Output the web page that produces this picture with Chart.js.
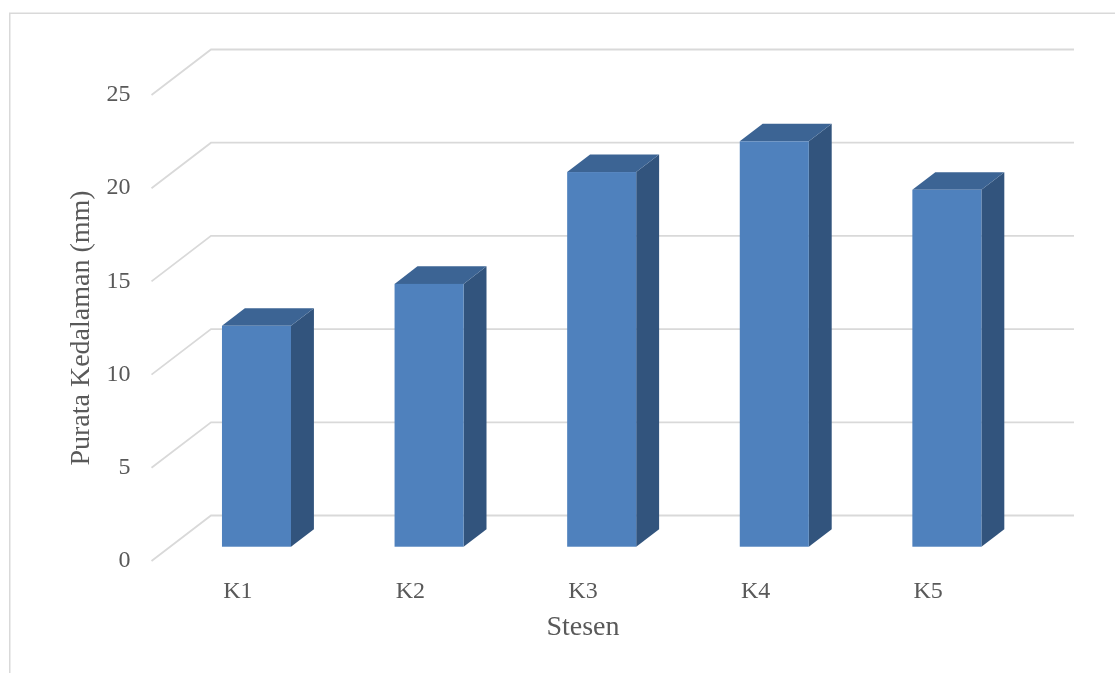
<!DOCTYPE html>
<html>
<head>
<meta charset="utf-8">
<script src="https://cdn.jsdelivr.net/npm/chart.js@4/dist/chart.umd.min.js"></script>
<style>
  html, body { margin: 0; padding: 0; background: #ffffff; }
  #wrap { width: 1115px; height: 673px; }
</style>
</head>
<body>
<div id="wrap"><canvas id="c" width="1115" height="673"></canvas></div>
<script>
// ---- data ----
const categories = ['K1', 'K2', 'K3', 'K4', 'K5'];
const depthValues = [11.85, 14.1, 20.1, 21.75, 19.15];
const yTitle = 'Purata Kedalaman (mm)';
const xTitle = 'Stesen';
const yMin = 0, yMax = 25, yStep = 5;

// ---- styles ----
const FONT = "'Liberation Serif', 'Times New Roman', serif";
const TEXT = '#595959';
const GRID = '#d9d9d9';
const FRONT = '#4f81bd';
const TOP = '#3c6494';
const SIDE = '#32547d';
const DEPTH_X = 59.5, DEPTH_Y = 45.5;   // full floor depth (oblique)
const BAR_FRONT = 0.314;                 // bar front face depth fraction
const BAR_DEPTH = 0.385;                 // bar depth fraction

const pseudo3d = {
  id: 'pseudo3d',
  beforeDatasetsDraw(chart) {
    const { ctx, chartArea: a, scales: { y } } = chart;
    ctx.save();
    // outer frame
    ctx.strokeStyle = GRID;
    ctx.lineWidth = 1.5;
    ctx.strokeRect(9.75, 13.25, 1300, 800);
    // floor diagonals + back wall gridlines
    ctx.lineWidth = 1.8;
    ctx.strokeStyle = GRID;
    y.ticks.forEach(t => {
      const Y = y.getPixelForValue(t.value);
      ctx.beginPath();
      ctx.moveTo(a.left, Y);
      ctx.lineTo(a.left + DEPTH_X, Y - DEPTH_Y);
      ctx.lineTo(a.right + DEPTH_X, Y - DEPTH_Y);
      ctx.stroke();
    });
    ctx.restore();
  },
  afterDatasetsDraw(chart) {
    const { ctx } = chart;
    const meta = chart.getDatasetMeta(0);
    const fx = DEPTH_X * BAR_FRONT, fy = DEPTH_Y * BAR_FRONT;
    const bx = DEPTH_X * BAR_DEPTH, by = DEPTH_Y * BAR_DEPTH;
    ctx.save();
    meta.data.forEach(el => {
      const p = el.getProps(['x', 'y', 'base', 'width'], true);
      const left = p.x - p.width / 2 + fx;
      const right = left + p.width;
      const top = p.y - fy;
      const bot = p.base - fy;
      // side face
      ctx.fillStyle = SIDE;
      ctx.beginPath();
      ctx.moveTo(right, top);
      ctx.lineTo(right + bx, top - by);
      ctx.lineTo(right + bx, bot - by);
      ctx.lineTo(right, bot);
      ctx.closePath();
      ctx.fill();
      // top face
      ctx.fillStyle = TOP;
      ctx.beginPath();
      ctx.moveTo(left, top);
      ctx.lineTo(left + bx, top - by);
      ctx.lineTo(right + bx, top - by);
      ctx.lineTo(right, top);
      ctx.closePath();
      ctx.fill();
      // front face
      ctx.fillStyle = FRONT;
      ctx.fillRect(left, top, p.width, bot - top);
    });
    ctx.restore();
  }
};

new Chart(document.getElementById('c'), {
  type: 'bar',
  data: {
    labels: categories,
    datasets: [{
      data: depthValues,
      backgroundColor: 'rgba(0,0,0,0)',
      borderWidth: 0,
      categoryPercentage: 1.0,
      barPercentage: 0.4
    }]
  },
  options: {
    responsive: false,
    animation: false,
    layout: { padding: { top: 95, right: 100.5, left: 0, bottom: 0 } },
    plugins: { legend: { display: false }, tooltip: { enabled: false } },
    scales: {
      x: {
        grid: { display: false, drawTicks: false },
        border: { display: false },
        ticks: { font: { family: FONT, size: 24 }, color: TEXT, padding: 16, maxRotation: 0 },
        title: { display: true, text: xTitle, font: { family: FONT, size: 28 }, color: TEXT, padding: { top: 0, bottom: 29 } },
        afterFit(s) { s.height = 112; }
      },
      y: {
        min: yMin, max: yMax,
        grid: { display: false, drawTicks: false },
        border: { display: false },
        ticks: { stepSize: yStep, font: { family: FONT, size: 24 }, color: TEXT, padding: 21 },
        title: { display: true, text: yTitle, font: { family: FONT, size: 28 }, color: TEXT, padding: { top: 65, bottom: 0 } },
        afterFit(s) { s.width = 151.5; }
      }
    }
  },
  plugins: [pseudo3d]
});
</script>
</body>
</html>
